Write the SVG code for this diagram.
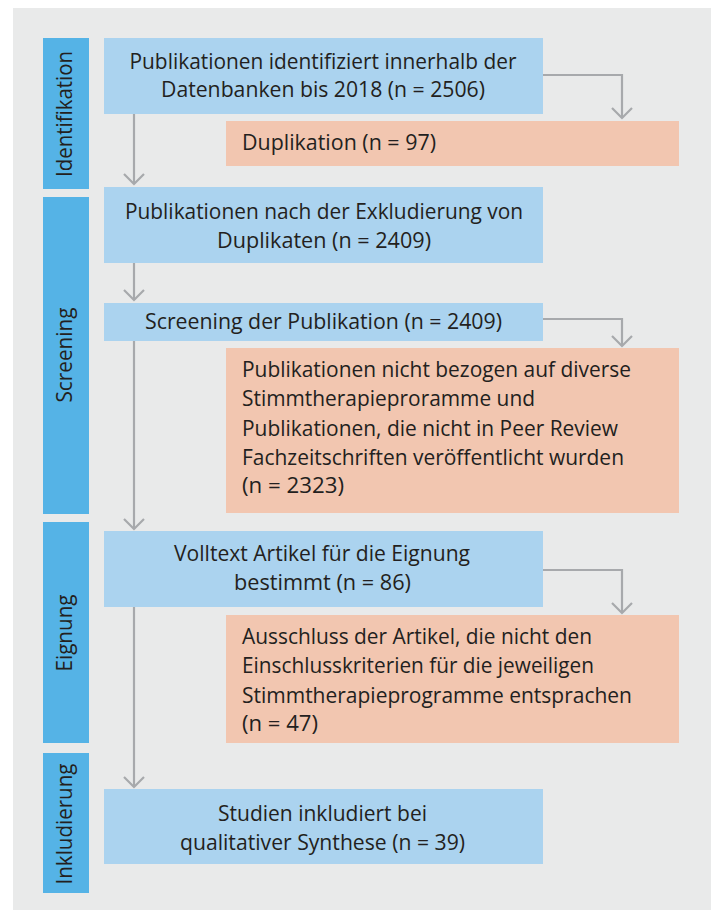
<svg xmlns="http://www.w3.org/2000/svg" width="711" height="910" viewBox="0 0 711 910">
<style>
.bg{fill:#e9eaea}
.bar{fill:#55b3e6}
.blue{fill:#abd3ef}
.sal{fill:#f2c6b0}
.t{font-family:"Open Sans","Noto Sans","DejaVu Sans",sans-serif;font-size:21px;fill:#231f20}
.c{text-anchor:middle}
.side{font-family:"Open Sans","Noto Sans","DejaVu Sans",sans-serif;font-size:21px;fill:#231f20;text-anchor:middle}
.ln{fill:none;stroke:#a7a9ac;stroke-width:2.2}
</style>
<defs>
<marker id="ah" viewBox="-12 -12 14 24" markerWidth="14" markerHeight="24" refX="0" refY="0" orient="auto" markerUnits="userSpaceOnUse">
<path d="M-10,-10 L0,0 L-10,10" fill="none" stroke="#a7a9ac" stroke-width="2.2"/>
</marker>
</defs>
<rect class="bg" x="13" y="8" width="698" height="902"/>

<g id="phase-identifikation">
<rect class="bar" x="43" y="38" width="46" height="151"/>
<text class="side" transform="translate(72,114) rotate(-90)" textLength="126" lengthAdjust="spacingAndGlyphs">Identifikation</text>
</g>
<g id="phase-screening">
<rect class="bar" x="43" y="197" width="46" height="317"/>
<text class="side" transform="translate(72,355) rotate(-90)" textLength="95" lengthAdjust="spacingAndGlyphs">Screening</text>
</g>
<g id="phase-eignung">
<rect class="bar" x="43" y="522" width="46" height="221"/>
<text class="side" transform="translate(72,633) rotate(-90)" textLength="77" lengthAdjust="spacingAndGlyphs">Eignung</text>
</g>
<g id="phase-inkludierung">
<rect class="bar" x="43" y="753" width="46" height="140"/>
<text class="side" transform="translate(72,824) rotate(-90)" textLength="121" lengthAdjust="spacingAndGlyphs">Inkludierung</text>
</g>

<g id="connectors">
<path class="ln" d="M134,114 V184" marker-end="url(#ah)"/>
<path class="ln" d="M134,263 V300" marker-end="url(#ah)"/>
<path class="ln" d="M134,341 V529" marker-end="url(#ah)"/>
<path class="ln" d="M134,607 V787" marker-end="url(#ah)"/>
<path class="ln" d="M543,75 H622 V118" marker-end="url(#ah)"/>
<path class="ln" d="M543,319 H622 V346" marker-end="url(#ah)"/>
<path class="ln" d="M543,570 H622 V613" marker-end="url(#ah)"/>
</g>

<g id="n-identified">
<rect class="blue" x="104" y="38" width="439" height="76"/>
<text class="t c" x="323" y="69" textLength="387" lengthAdjust="spacingAndGlyphs">Publikationen identifiziert innerhalb der</text>
<text class="t c" x="323" y="97" textLength="324" lengthAdjust="spacingAndGlyphs">Datenbanken bis 2018 (n = 2506)</text>
</g>
<g id="n-duplicates">
<rect class="sal" x="226" y="121" width="453" height="45"/>
<text class="t" x="242" y="150" textLength="194" lengthAdjust="spacingAndGlyphs">Duplikation (n = 97)</text>
</g>
<g id="n-after-dedup">
<rect class="blue" x="104" y="187" width="439" height="76"/>
<text class="t c" x="324" y="219" textLength="398" lengthAdjust="spacingAndGlyphs">Publikationen nach der Exkludierung von</text>
<text class="t c" x="324" y="248" textLength="214" lengthAdjust="spacingAndGlyphs">Duplikaten (n = 2409)</text>
</g>
<g id="n-screening">
<rect class="blue" x="104" y="303" width="439" height="38"/>
<text class="t c" x="323.5" y="329" textLength="357" lengthAdjust="spacingAndGlyphs">Screening der Publikation (n = 2409)</text>
</g>
<g id="n-excluded-screening">
<rect class="sal" x="226" y="348" width="453" height="165"/>
<text class="t" x="242" y="377" textLength="389" lengthAdjust="spacingAndGlyphs">Publikationen nicht bezogen auf diverse</text>
<text class="t" x="242" y="406" textLength="293" lengthAdjust="spacingAndGlyphs">Stimmtherapieproramme und</text>
<text class="t" x="242" y="436" textLength="376" lengthAdjust="spacingAndGlyphs">Publikationen, die nicht in Peer Review</text>
<text class="t" x="242" y="465" textLength="382" lengthAdjust="spacingAndGlyphs">Fachzeitschriften veröffentlicht wurden</text>
<text class="t" x="242" y="493" textLength="102" lengthAdjust="spacingAndGlyphs">(n = 2323)</text>
</g>
<g id="n-fulltext">
<rect class="blue" x="104" y="531" width="439" height="76"/>
<text class="t c" x="322" y="561" textLength="296" lengthAdjust="spacingAndGlyphs">Volltext Artikel für die Eignung</text>
<text class="t c" x="322.5" y="590" textLength="177" lengthAdjust="spacingAndGlyphs">bestimmt (n = 86)</text>
</g>
<g id="n-excluded-fulltext">
<rect class="sal" x="226" y="615" width="453" height="128"/>
<text class="t" x="242" y="644" textLength="350" lengthAdjust="spacingAndGlyphs">Ausschluss der Artikel, die nicht den</text>
<text class="t" x="242" y="673" textLength="352" lengthAdjust="spacingAndGlyphs">Einschlusskriterien für die jeweiligen</text>
<text class="t" x="242" y="703" textLength="390" lengthAdjust="spacingAndGlyphs">Stimmtherapieprogramme entsprachen</text>
<text class="t" x="242" y="731" textLength="76" lengthAdjust="spacingAndGlyphs">(n = 47)</text>
</g>
<g id="n-included">
<rect class="blue" x="104" y="789" width="439" height="75"/>
<text class="t c" x="322.5" y="821" textLength="209" lengthAdjust="spacingAndGlyphs">Studien inkludiert bei</text>
<text class="t c" x="322.5" y="850" textLength="285" lengthAdjust="spacingAndGlyphs">qualitativer Synthese (n = 39)</text>
</g>
</svg>
